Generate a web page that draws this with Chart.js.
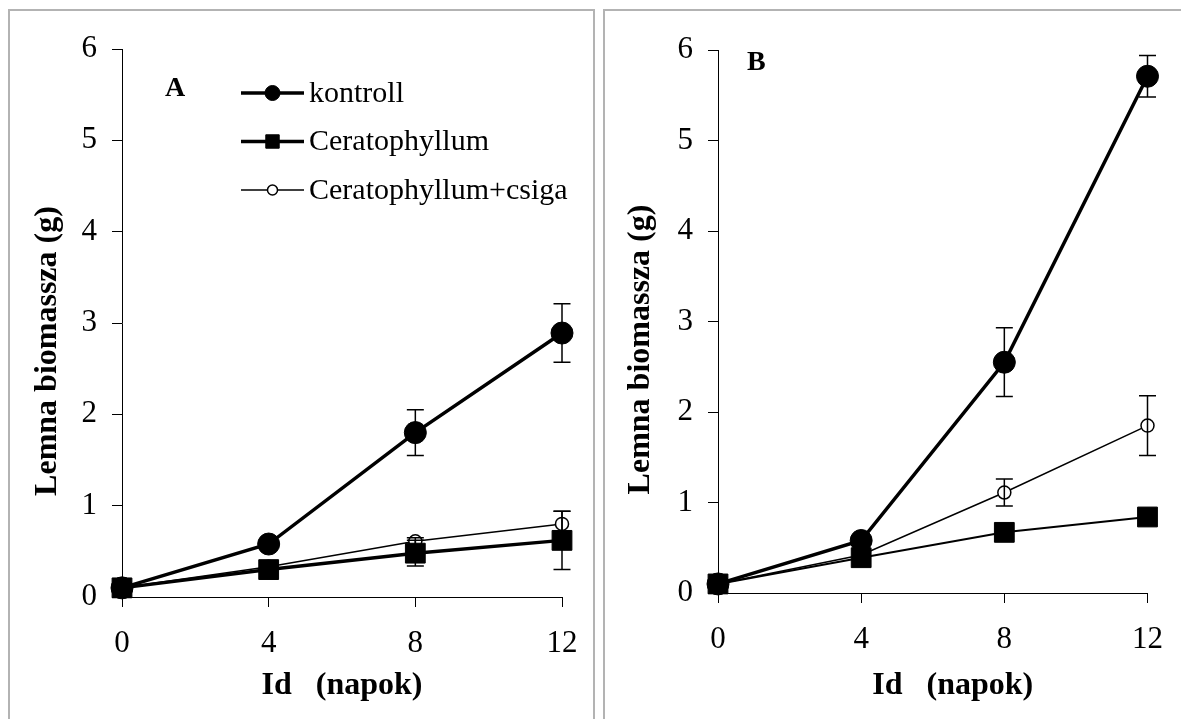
<!DOCTYPE html>
<html>
<head>
<meta charset="utf-8">
<script src="https://cdn.jsdelivr.net/npm/chart.js@4/dist/chart.umd.min.js"></script>
<style>
  html, body { margin: 0; padding: 0; background: #fff; }
  body { width: 1181px; height: 719px; position: relative; overflow: hidden; }
  .frame { position: absolute; border: 2px solid #b3b3b3; border-bottom: none; }
  #frameA { left: 8px; top: 9px; width: 583px; height: 720px; }
  #frameB { left: 603px; top: 9px; width: 600px; height: 720px; }
  canvas { position: absolute; top: 0; }
  #chartA { left: 0; }
  #chartB { left: 597px; }
</style>
</head>
<body>
<div class="frame" id="frameA"></div>
<div class="frame" id="frameB"></div>
<canvas id="chartA" width="597" height="719"></canvas>
<canvas id="chartB" width="584" height="719"></canvas>
<script>
// days of sampling and the x-axis tick values
var days = [0, 4, 8, 12];
var dayTicks = [0, 4, 8, 12];

var seriesNames = ['kontroll', 'Ceratophyllum', 'Ceratophyllum+csiga'];

// panel A  (mean and error, g)
var kontrollA = [0.10, 0.58, 1.80, 2.89];
var kontrollErrA = [0.02, 0.03, 0.25, 0.32];
var ceratA = [0.10, 0.30, 0.48, 0.62];
var ceratErrA = [0.02, 0.03, 0.14, 0.32];
var csigaA = [0.10, 0.33, 0.61, 0.80];
var csigaErrA = [0.0, 0.0, 0.04, 0.14];

// panel B
var kontrollB = [0.10, 0.58, 2.55, 5.71];
var kontrollErrB = [0.02, 0.04, 0.38, 0.23];
var ceratB = [0.10, 0.39, 0.67, 0.84];
var ceratErrB = [0.02, 0.03, 0.05, 0.05];
var csigaB = [0.10, 0.42, 1.11, 1.85];
var csigaErrB = [0.0, 0.0, 0.15, 0.33];

var serif = "'Liberation Serif', 'Times New Roman', serif";

function points(vals) {
    return vals.map(function (v, i) { return { x: days[i], y: v }; });
}

function makeSets(k, kErr, c, cErr, s, sErr, ceratWidth) {
    return [
        {
            label: seriesNames[0], data: points(k), errors: kErr,
            borderColor: '#000', borderWidth: 3.5,
            pointStyle: 'circle', pointRadius: 11, legendRadius: 7.5,
            pointBackgroundColor: '#000', pointBorderColor: '#000', pointBorderWidth: 1,
            clip: false
        },
        {
            label: seriesNames[1], data: points(c), errors: cErr,
            borderColor: '#000', borderWidth: ceratWidth, legendWidth: 3.5,
            pointStyle: 'rect', pointRadius: 14, legendRadius: 9.5,
            pointBackgroundColor: '#000', pointBorderColor: '#000', pointBorderWidth: 1,
            clip: false
        },
        {
            label: seriesNames[2], data: points(s), errors: sErr,
            borderColor: '#000', borderWidth: 1.5,
            pointStyle: 'circle', pointRadius: 6.5, legendRadius: 5,
            pointBackgroundColor: '#fff', pointBorderColor: '#000', pointBorderWidth: 1.5,
            clip: false
        }
    ];
}

// vertical error bars with caps, drawn over the markers
var errorBars = {
    id: 'errorBars',
    afterDatasetsDraw: function (chart) {
        var ctx = chart.ctx, xs = chart.scales.x, ys = chart.scales.y;
        ctx.save();
        ctx.strokeStyle = '#000';
        ctx.lineWidth = 1.5;
        chart.data.datasets.forEach(function (ds) {
            ds.data.forEach(function (p, i) {
                var e = ds.errors[i];
                if (!e) return;
                var x = xs.getPixelForValue(p.x);
                var y1 = ys.getPixelForValue(p.y + e);
                var y2 = ys.getPixelForValue(p.y - e);
                ctx.beginPath();
                ctx.moveTo(x, y1); ctx.lineTo(x, y2);
                ctx.moveTo(x - 8.5, y1); ctx.lineTo(x + 8.5, y1);
                ctx.moveTo(x - 8.5, y2); ctx.lineTo(x + 8.5, y2);
                ctx.stroke();
            });
        });
        ctx.restore();
    }
};

// panel letter
var panelTag = {
    id: 'panelTag',
    afterDraw: function (chart, args, opts) {
        var ctx = chart.ctx, a = chart.chartArea;
        ctx.save();
        ctx.font = 'bold 28px ' + serif;
        ctx.fillStyle = '#000';
        ctx.textBaseline = 'middle';
        ctx.fillText(opts.text, a.left + opts.dx, a.top + opts.dy);
        ctx.restore();
    }
};

// line + marker legend
var lineLegend = {
    id: 'lineLegend',
    afterDraw: function (chart, args, opts) {
        if (!opts.show) return;
        var ctx = chart.ctx, a = chart.chartArea;
        var x0 = a.left + 119, x1 = a.left + 182;
        ctx.save();
        chart.data.datasets.forEach(function (ds, i) {
            var y = a.top + 44 + i * 48.5;
            ctx.strokeStyle = '#000';
            ctx.lineWidth = ds.legendWidth || ds.borderWidth;
            ctx.beginPath();
            ctx.moveTo(x0, y); ctx.lineTo(x1, y);
            ctx.stroke();
            ctx.fillStyle = ds.pointBackgroundColor;
            ctx.lineWidth = ds.pointBorderWidth;
            Chart.helpers.drawPoint(ctx, {
                pointStyle: ds.pointStyle, radius: ds.legendRadius,
                borderWidth: ds.pointBorderWidth, rotation: 0
            }, (x0 + x1) / 2, y);
            ctx.fillStyle = '#000';
            ctx.font = '30px ' + serif;
            ctx.textBaseline = 'middle';
            ctx.fillText(ds.label, x1 + 5, y + 1);
        });
        ctx.restore();
    }
};

function makeChart(id, sets, cfg) {
    return new Chart(document.getElementById(id), {
        type: 'line',
        data: { datasets: sets },
        options: {
            responsive: false,
            animation: false,
            layout: { padding: { top: cfg.top, right: cfg.right, left: 0, bottom: 0 } },
            plugins: {
                legend: { display: false },
                tooltip: { enabled: false },
                panelTag: { text: cfg.tag, dx: cfg.tagX, dy: cfg.tagY },
                lineLegend: { show: cfg.legend }
            },
            scales: {
                x: {
                    type: 'linear', min: 0, max: 12,
                    afterBuildTicks: function (s) { s.ticks = dayTicks.map(function (v) { return { value: v }; }); },
                    afterFit: function (s) { s.height = cfg.xHeight; },
                    grid: { drawOnChartArea: false, drawTicks: true, tickLength: 10, color: '#000', lineWidth: 1 },
                    border: { color: '#000', width: 1 },
                    ticks: { color: '#000', padding: 18, maxRotation: 0, font: { family: serif, size: 31 } },
                    title: {
                        display: true, text: cfg.xTitle, color: '#000',
                        padding: { top: 0, bottom: 17 },
                        font: { family: serif, size: 32, weight: 'bold', lineHeight: 1 }
                    }
                },
                y: {
                    min: 0, max: 6,
                    ticks: { stepSize: 1, color: '#000', padding: 15, font: { family: serif, size: 31 } },
                    afterFit: function (s) { s.width = cfg.yWidth; },
                    grid: { drawOnChartArea: false, drawTicks: true, tickLength: 10, color: '#000', lineWidth: 1 },
                    border: { color: '#000', width: 1 },
                    title: {
                        display: true, text: 'Lemna biomassza (g)       ', color: '#000',
                        padding: { top: cfg.yTitlePad, bottom: 0 },
                        font: { family: serif, size: 32, weight: 'bold', lineHeight: 1 }
                    }
                }
            }
        },
        plugins: [errorBars, panelTag, lineLegend]
    });
}

makeChart('chartA', makeSets(kontrollA, kontrollErrA, ceratA, ceratErrA, csigaA, csigaErrA, 3.5), {
    top: 49, right: 35, xHeight: 122, yWidth: 122, yTitlePad: 32,
    xTitle: 'Id   (napok)', tag: 'A', tagX: 43, tagY: 40, legend: true
});

makeChart('chartB', makeSets(kontrollB, kontrollErrB, ceratB, ceratErrB, csigaB, csigaErrB, 2), {
    top: 50, right: 27, xHeight: 126, yWidth: 121, yTitlePad: 28,
    xTitle: '     Id   (napok)', tag: 'B', tagX: 29, tagY: 13, legend: false
});
</script>
</body>
</html>
